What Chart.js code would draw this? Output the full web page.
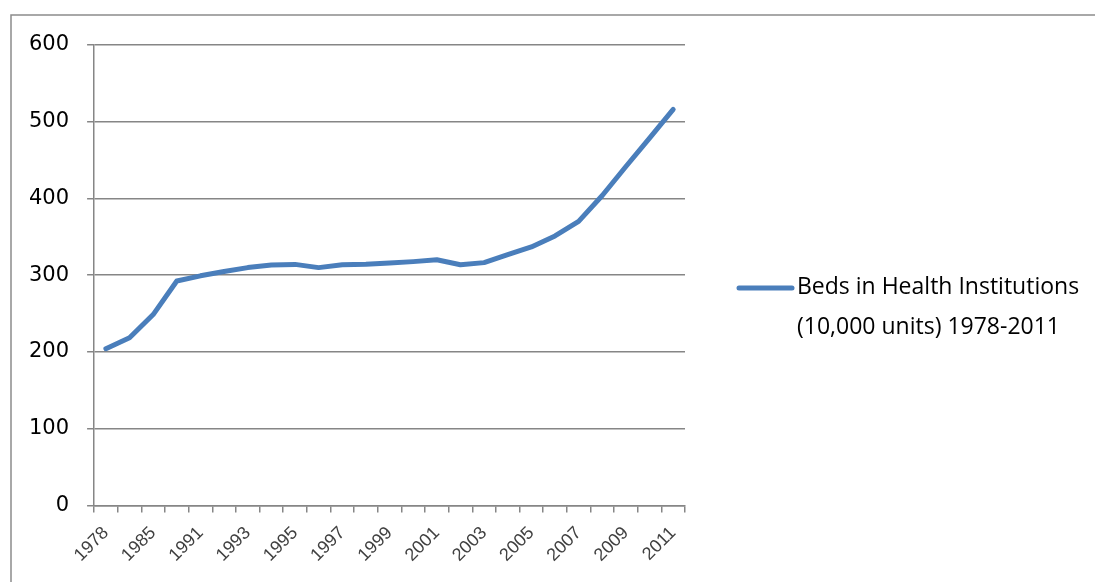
<!DOCTYPE html>
<html>
<head>
<meta charset="utf-8">
<script src="https://cdn.jsdelivr.net/npm/chart.js@4.4.0/dist/chart.umd.min.js"></script>
<style>
    html, body { margin: 0; padding: 0; background: #ffffff; }
    #wrap { position: relative; width: 1095px; height: 582px; }
</style>
</head>
<body>
<div id="wrap"><canvas id="beds-chart" width="1095" height="582"></canvas></div>
<script>
// Categorías (años) y valores: camas en instituciones de salud (10.000 unidades)
const years = ['1978', '1980', '1985', '1990', '1991', '1992', '1993', '1994', '1995', '1996',
    '1997', '1998', '1999', '2000', '2001', '2002', '2003', '2004', '2005', '2006',
    '2007', '2008', '2009', '2010', '2011'];
const beds = [204.2, 218.4, 248.7, 292.5, 299.2, 304.9, 309.9, 313.2, 314.1, 309.9,
    313.5, 314.3, 315.9, 317.7, 320.1, 313.6, 316.4, 326.8, 336.8, 351.2,
    370.1, 403.9, 441.7, 478.7, 516.0];
const yTicks = [0, 100, 200, 300, 400, 500, 600];
const legendLines = ['Beds in Health Institutions', '(10,000 units) 1978-2011'];

const lineColor = '#4A7EBB';
const gridColor = '#868686';
const textColor = '#000000';

/**
 * Marco (bordes superior e izquierdo) y leyenda a la derecha
 */
const frameAndLegend = {
    id: 'frameAndLegend',
    beforeDraw(chart) {
        const ctx = chart.ctx;
        ctx.save();
        ctx.strokeStyle = '#8C8C8C';
        ctx.lineWidth = 1.5;
        ctx.beginPath();
        ctx.moveTo(11, 582);
        ctx.lineTo(11, 15);
        ctx.lineTo(1095, 15);
        ctx.stroke();
        ctx.restore();
    },
    afterDraw(chart) {
        const ctx = chart.ctx;
        ctx.save();
        ctx.strokeStyle = lineColor;
        ctx.lineWidth = 5;
        ctx.lineCap = 'round';
        ctx.beginPath();
        ctx.moveTo(739, 288);
        ctx.lineTo(792, 288);
        ctx.stroke();
        ctx.fillStyle = textColor;
        ctx.font = '23px "Open Sans"';
        ctx.textBaseline = 'middle';
        legendLines.forEach((line, i) => ctx.fillText(line, 797, 287 + i * 40));
        ctx.restore();
    }
};

new Chart(document.getElementById('beds-chart').getContext('2d'), {
    type: 'line',
    data: {
        labels: years,
        datasets: [{
            label: legendLines.join(' '),
            data: beds,
            borderColor: lineColor,
            borderWidth: 5,
            borderCapStyle: 'round',
            borderJoinStyle: 'round',
            pointRadius: 0,
            tension: 0,
            fill: false
        }]
    },
    options: {
        responsive: false,
        animation: false,
        layout: { padding: { left: 11, right: 410, top: 45, bottom: 6 } },
        plugins: {
            legend: { display: false },
            tooltip: { enabled: false }
        },
        scales: {
            x: {
                type: 'category',
                offset: true,
                grid: {
                    offset: true,
                    drawOnChartArea: false,
                    drawTicks: true,
                    tickLength: 7,
                    color: gridColor,
                    lineWidth: 1.5
                },
                border: { color: gridColor, width: 1.5 },
                ticks: {
                    autoSkip: false,
                    maxRotation: 45,
                    minRotation: 45,
                    color: '#404040',
                    font: { family: 'Liberation Sans', size: 18 },
                    padding: 10,
                    callback: (value, index) => (index % 2 === 0 ? years[index] : '')
                }
            },
            y: {
                min: 0,
                max: 600,
                afterBuildTicks: (axis) => { axis.ticks = yTicks.map(v => ({ value: v })); },
                grid: {
                    color: gridColor,
                    lineWidth: 1.5,
                    tickLength: 7
                },
                border: { color: gridColor, width: 1.5 },
                ticks: {
                    color: textColor,
                    font: { family: 'DejaVu Sans', size: 21 },
                    padding: 18
                }
            }
        }
    },
    plugins: [frameAndLegend]
});
</script>
</body>
</html>
